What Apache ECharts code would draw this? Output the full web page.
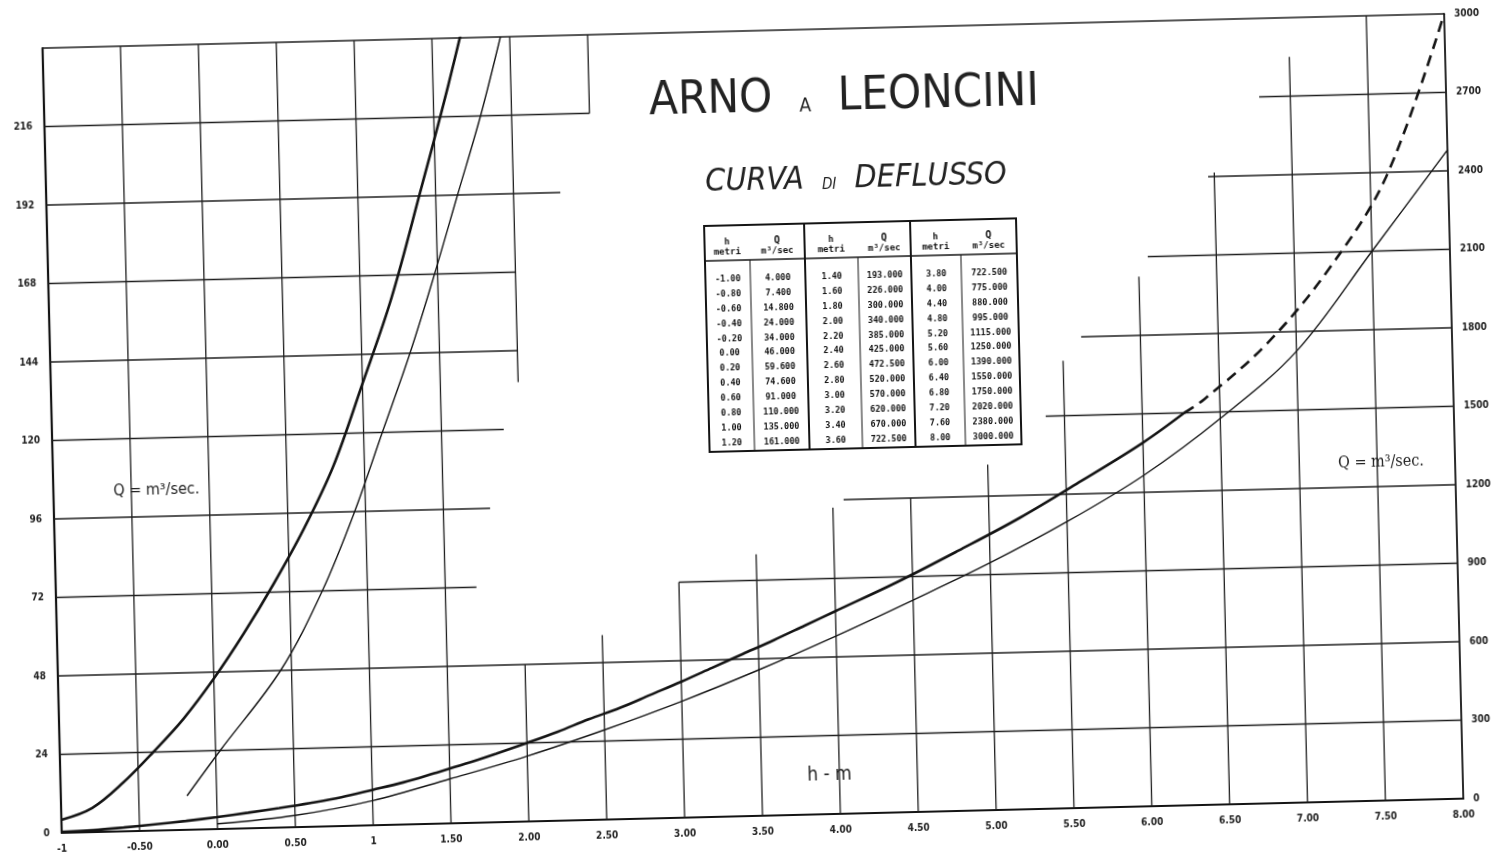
<!DOCTYPE html>
<html><head><meta charset="utf-8">
<script src="https://cdn.jsdelivr.net/npm/echarts@6/dist/echarts.min.js"></script>
<style>
html,body{margin:0;padding:0;background:#fff;overflow:hidden;}
#chart{width:1495px;height:853px;transform:rotate(-1.4deg);transform-origin:50% 50%;}
</style></head>
<body><div id="chart"></div>
<script>
// ---------------- DATA ----------------
// x tick labels (h in metres)
const xTickLabels = ['-1','-0.50','0.00','0.50','1','1.50','2.00','2.50','3.00','3.50','4.00','4.50','5.00','5.50','6.00','6.50','7.00','7.50','8.00'];
const leftTickLabels = ['0','24','48','72','96','120','144','168','192','216',''];
const rightTickLabels = ['0','300','600','900','1200','1500','1800','2100','2400','2700','3000'];

// main discharge curve (thick)
const thickH = [-1,-0.8,-0.6,-0.4,-0.2,0,0.2,0.4,0.6,0.8,1.0,1.2,1.4,1.6,1.8,2.0,2.2,2.4,2.6,2.8,3.0,3.2,3.4,3.6,3.8,4.0,4.4,4.8,5.2,5.6,6.0,6.27];
const thickQ = [4,7.4,14.8,24,34,46,59.6,74.6,91,110,135,161,193,226,262,300,340,385,425,472.5,520,570,620,670,722.5,775,880,995,1115,1250,1390,1500];
// dashed extrapolated part of the main curve
const dashH = [6.27,6.4,6.8,7.2,7.6,8.0];
const dashQ = [1500,1550,1750,2020,2380,3000];
// second (thin) curve, low range (left scale)
const thinLowH = [-0.19,0.03,0.43,0.71,0.93,1.12,1.31,1.48,1.64,1.8,1.94];
const thinLowQ = [10.4,24,48,72,96,120,144,168,192,216,240];
// second (thin) curve, full range (right scale)
const thinH = [0,0.5,1,1.5,2,2.5,3,3.5,4,4.5,5,5.5,6,6.5,7,7.5,8];
const thinQ = [20,45,94,170,250,343,445,558,680,810,945,1095,1265,1475,1725,2100,2480];

// table printed on the chart
const tableH = ['-1.00','-0.80','-0.60','-0.40','-0.20','0.00','0.20','0.40','0.60','0.80','1.00','1.20',
                '1.40','1.60','1.80','2.00','2.20','2.40','2.60','2.80','3.00','3.20','3.40','3.60',
                '3.80','4.00','4.40','4.80','5.20','5.60','6.00','6.40','6.80','7.20','7.60','8.00'];
const tableQ = ['4.000','7.400','14.800','24.000','34.000','46.000','59.600','74.600','91.000','110.000','135.000','161.000',
                '193.000','226.000','300.000','340.000','385.000','425.000','472.500','520.000','570.000','620.000','670.000','722.500',
                '722.500','775.000','880.000','995.000','1115.000','1250.000','1390.000','1550.000','1750.000','2020.000','2380.000','3000.000'];

// ---------------- LAYOUT (grid paper segments, in h / grid-level units) ----------------
const V_SEGS = [ // [h, levelFrom, levelTo]
  [-0.5,0,10],[0,0,10],[0.5,0,10],[1,0,10],[1.5,0,10],
  [2,0,2],[2,5.6,10],[2.5,0,2.35],[2.5,9,10],[3,0,3],[3.5,0,3.33],[4,0,3.9],[4.5,0,4.0],
  [5,0,4.4],[5.5,0,5.7],[6,0,6.75],[6.5,0,8.05],[7,0,9.5],[7.5,0,10]
];
const H_SEGS = [ // [level, hFrom, hTo]
  [1,-1,8],[2,-1,8],[3,-1,1.7],[3,3.0,8],[4,-1,1.8],[4,4.07,8],[5,-1,1.9],[5,5.38,8],
  [6,-1,2.0],[6,5.62,8],[7,-1,2.0],[7,6.06,8],[8,-1,2.3],[8,6.46,8],[9,-1,2.5],[9,6.8,8],[10,-1,8]
];
const LEVEL = 24;
const gridSegments = [];
V_SEGS.forEach(s => gridSegments.push([s[0], s[1]*LEVEL, s[0], s[2]*LEVEL]));
H_SEGS.forEach(s => gridSegments.push([s[1], s[0]*LEVEL, s[2], s[0]*LEVEL]));

const zip = (a, b) => a.map((v, i) => [v, b[i]]);

const INK = '#141414';
const LABEL_FONT = "'Liberation Sans Narrow', 'DejaVu Sans Condensed', sans-serif";
const TABLE_FONT = "'DejaVu Sans Mono', 'Liberation Mono', monospace";

// ---------------- TABLE graphic ----------------
const T = {x0:709, y0:225, x1:1021, y1:451, headY:260, rowY0:279, rowStep:14.85,
           gx:[709,809,915,1021], ix:[754,862,965]};
const tableEls = [];
tableEls.push({type:'rect', z:10, shape:{x:T.x0, y:T.y0, width:T.x1-T.x0, height:T.y1-T.y0},
  style:{fill:'#fff', stroke:INK, lineWidth:2}});
[1,2].forEach(g => tableEls.push({type:'line', z:11, shape:{x1:T.gx[g], y1:T.y0, x2:T.gx[g], y2:T.y1}, style:{stroke:INK, lineWidth:2}}));
T.ix.forEach(x => tableEls.push({type:'line', z:11, shape:{x1:x, y1:T.headY, x2:x, y2:T.y1}, style:{stroke:INK, lineWidth:1}}));
tableEls.push({type:'line', z:11, shape:{x1:T.x0, y1:T.headY, x2:T.x1, y2:T.headY}, style:{stroke:INK, lineWidth:1.5}});
for (let g = 0; g < 3; g++) {
  const hc = (T.gx[g] + T.ix[g]) / 2, qc = (T.ix[g] + T.gx[g+1]) / 2;
  const txt = (t, x, y, size) => tableEls.push({type:'text', z:12, x:x, y:y,
    style:{text:t, fill:INK, fontSize:size, fontFamily:TABLE_FONT, fontWeight:'bold', align:'center', verticalAlign:'middle'}});
  txt('h', hc, 242, 9); txt('metri', hc, 252, 9);
  txt('Q', qc, 241, 10); txt('m³/sec', qc, 252, 9);
  for (let r = 0; r < 12; r++) {
    const k = g*12 + r, y = T.rowY0 + r*T.rowStep;
    txt(tableH[k], hc, y, 8.5);
    txt(tableQ[k], qc, y, 8.5);
  }
}

const textEls = [
  {type:'text', z:12, x:852, y:100, style:{text:'{a|ARNO  }{b|A}{a|  LEONCINI}', align:'center', verticalAlign:'middle',
     rich:{a:{fontSize:47, fontFamily:LABEL_FONT, fill:'#222', verticalAlign:'bottom'},
           b:{fontSize:19, fontFamily:LABEL_FONT, fill:'#222', verticalAlign:'bottom', padding:[0,0,6,0]}}}},
  {type:'text', z:12, x:862, y:182, style:{text:'{a|CURVA  }{b|DI}{a|  DEFLUSSO}', align:'center', verticalAlign:'middle',
     rich:{a:{fontSize:32, fontStyle:'italic', fontFamily:LABEL_FONT, fill:'#222', verticalAlign:'bottom'},
           b:{fontSize:15, fontStyle:'italic', fontFamily:LABEL_FONT, fill:'#222', verticalAlign:'bottom', padding:[0,0,3,0]}}}},
  {type:'text', z:12, x:155, y:476, style:{text:'Q = m³/sec.', fill:'#222', fontSize:16, fontFamily:"'DejaVu Sans Condensed', sans-serif", align:'center', verticalAlign:'middle'}},
  {type:'text', z:12, x:1380, y:478, style:{text:'Q = m³/sec.', fill:'#222', fontSize:16, fontFamily:"'DejaVu Serif Condensed', 'DejaVu Serif', serif", align:'center', verticalAlign:'middle'}},
  {type:'text', z:12, x:821, y:777, style:{text:'h - m', fill:'#222', fontSize:19, fontFamily:"'DejaVu Sans Condensed', sans-serif", align:'center', verticalAlign:'middle'}}
];

const chart = echarts.init(document.getElementById('chart'));
const axisLabelBase = {fontSize:10, fontWeight:'bold', color:'#222', fontFamily:LABEL_FONT};
const curve = {type:'line', z:3, showSymbol:false, smooth:0.35};
chart.setOption({
  animation:false,
  backgroundColor:'#ffffff',
  grid:{left:52, right:41, top:31, bottom:37},
  xAxis:{type:'value', min:-1, max:8, interval:0.5,
    axisLine:{show:true, onZero:false, lineStyle:{color:INK, width:2.2}},
    axisTick:{show:false}, splitLine:{show:false},
    axisLabel:Object.assign({margin:11, formatter:v => xTickLabels[Math.round((v + 1) / 0.5)]}, axisLabelBase)},
  yAxis:[
    {type:'value', min:0, max:240, interval:24, position:'left',
      axisLine:{show:true, onZero:false, lineStyle:{color:INK, width:2.2}}, axisTick:{show:false}, splitLine:{show:false},
      axisLabel:Object.assign({margin:12, formatter:v => leftTickLabels[Math.round(v / 24)]}, axisLabelBase)},
    {type:'value', min:0, max:3000, interval:300, position:'right',
      axisLine:{show:true, onZero:false, lineStyle:{color:INK, width:1.8}}, axisTick:{show:false}, splitLine:{show:false},
      axisLabel:Object.assign({margin:10, formatter:v => rightTickLabels[Math.round(v / 300)]}, axisLabelBase)}
  ],
  series:[
    {type:'custom', name:'grid', z:1, silent:true, clip:false, xAxisIndex:0, yAxisIndex:0,
      encode:{x:[0,2], y:[1,3]}, data:gridSegments,
      renderItem:(params, api) => {
        const p1 = api.coord([api.value(0), api.value(1)]);
        const p2 = api.coord([api.value(2), api.value(3)]);
        return {type:'line', shape:{x1:p1[0], y1:p1[1], x2:p2[0], y2:p2[1]}, style:{stroke:'#1e1e1e', lineWidth:1.3}};
      }},
    Object.assign({name:'Q (low) 1', yAxisIndex:0, data:zip(thickH, thickQ), lineStyle:{color:INK, width:2.6}}, curve),
    Object.assign({name:'Q (low) 2', yAxisIndex:0, data:zip(thinLowH, thinLowQ), lineStyle:{color:INK, width:1.4}}, curve),
    Object.assign({name:'Q 1', yAxisIndex:1, data:zip(thickH, thickQ), lineStyle:{color:INK, width:2.6}}, curve),
    Object.assign({name:'Q 1 (ext.)', yAxisIndex:1, data:zip(dashH, dashQ), lineStyle:{color:INK, width:2.6, type:[11,7]}}, curve),
    Object.assign({name:'Q 2', yAxisIndex:1, data:zip(thinH, thinQ), lineStyle:{color:INK, width:1.4}}, curve)
  ],
  graphic:tableEls.concat(textEls)
});
</script>
</body></html>
